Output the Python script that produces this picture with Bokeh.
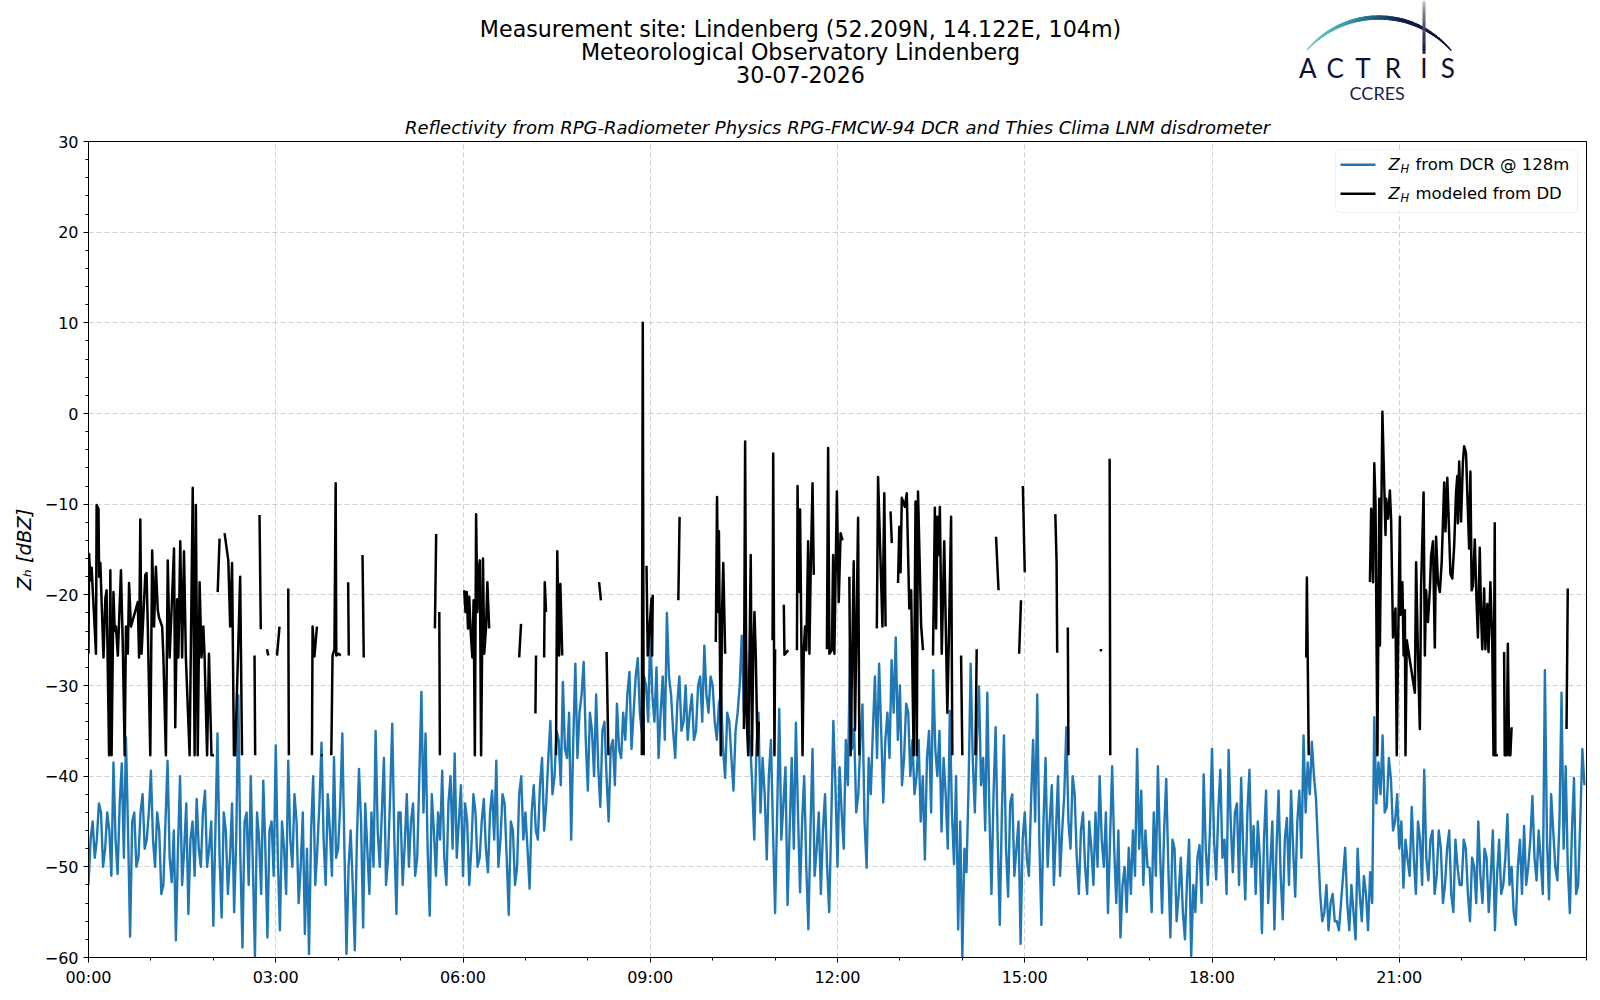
import math
import numpy as np
from bokeh.plotting import figure
from bokeh.layouts import column
from bokeh.models import Range1d, FixedTicker, BoxAnnotation, Label
from bokeh.core.properties import value
from bokeh.embed import file_html
from bokeh.resources import INLINE

# ---------------- data ----------------
hour_ticks = [0, 3, 6, 9, 12, 15, 18, 21]
hour_labels = ["00:00", "03:00", "06:00", "09:00", "12:00", "15:00", "18:00", "21:00"]
dbz_ticks = [-60, -50, -40, -30, -20, -10, 0, 10, 20, 30]
dbz_labels = ["\u221260", "\u221250", "\u221240", "\u221230", "\u221220", "\u221210", "0", "10", "20", "30"]

title_lines = ["Measurement site: Lindenberg (52.209N, 14.122E, 104m)",
               "Meteorological Observatory Lindenberg",
               "30-07-2026"]
subtitle = "Reflectivity from RPG-Radiometer Physics RPG-FMCW-94 DCR and Thies Clima LNM disdrometer"
y_label = "Z\u2095 [dBZ]"
legend_texts = ["from DCR @ 128m", "modeled from DD"]

# DCR reflectivity at 128 m, sampled every 2 minutes.
# dcr_zh_a: values at minutes 0, 4, 8, ... ; dcr_zh_b: values at minutes 2, 6, 10, ...
dcr_step_min = 2
dcr_zh_a = [
    -52, -45, -47, -44, -48, -46, -38.5, -50.8, -38.6, -35.7, -57.7, -44, -49, -42, -47,          # 00h
    -39.4, -50, -46, -52, -38.3, -51.7, -58.1, -40, -48, -55.2, -45, -42.5, -50, -41.6, -48,     # 01h
    -56.5, -35.3, -55.6, -46, -49, -55, -31.1, -58.9, -44, -40, -60, -47, -40.5, -57.8, -45,     # 02h
    -36.6, -57, -48, -38.3, -50, -45, -50, -57.4, -59.6, -40, -48, -36.3, -52, -46, -37.9,       # 03h
    -48, -35.3, -59.6, -46, -59.2, -39.2, -56.7, -48, -44, -35, -50, -38, -49, -34.2, -55.2,     # 04h
    -44, -47.5, -50, -43, -49, -30.7, -35.3, -55.4, -46, -44, -39.4, -52, -40, -37.5, -45,       # 05h
    -51, -45, -48, -44, -49, -42.5, -50.6, -41.6, -38.3, -47, -43, -55.3, -46, -50, -40,         # 06h
    -44, -52.4, -41, -47, -38, -43, -33.9, -40, -36, -29.6, -38, -47, -27.6, -33, -27.4,         # 07h
    -41.6, -35, -31, -43.4, -34, -45, -36, -32, -38, -36, -28.5, -33, -27, -35.3, -30,           # 08h
    -24, -34, -38, -29, -22, -31, -38, -29, -34, -36, -31, -35, -29, -25.6, -33,                 # 09h
    -30, -36, -31, -40.2, -34, -41.6, -33, -24.5, -26, -36, -47, -33, -38, -49.2, -36,           # 10h
    -55.1, -32.6, -43, -54.2, -38, -34.1, -52.8, -40, -56.9, -37, -48, -53, -42, -55, -33.9,     # 11h
    -50, -44, -36, -25.8, -34.8, -42, -32.1, -50.1, -42, -29, -27.6, -42.9, -33, -27.2, -24.7,   # 12h
    -30, -38, -33, -36, -40, -45, -49.2, -35, -28.3, -40, -46.1, -42, -32.8, -49.7, -56.9,       # 13h
    -60, -50.6, -27.6, -44, -30.1, -38, -30.8, -53, -34.6, -56.4, -35.5, -53.3, -42, -48, -58.5, # 14h
    -44, -51, -36, -31, -56.4, -38, -45, -52, -40, -46, -34.6, -48, -42, -53, -44,               # 15h
    -53, -48, -44, -40, -50, -55.1, -38.9, -54, -57.8, -50, -47.9, -46, -37, -41.6, -46,         # 16h
    -50.1, -44, -38.9, -55.1, -40.3, -57.8, -48, -53, -55, -51.5, -60, -55, -47.6, -39.8, -52,   # 17h
    -37, -51.4, -39.3, -47, -37.1, -50.6, -43, -40.2, -53.6, -39.3, -45.5, -45, -57.3, -41.6, -50,  # 18h
    -56.9, -41.6, -55.8, -44.6, -41.6, -53.3, -41.6, -35.5, -38.5, -36.2, -42.5, -53, -55, -57, -53, # 19h
    -56, -54, -47.9, -57, -55, -48, -56, -53, -50.6, -33.5, -38.5, -35.5, -43.4, -40.3, -45,     # 20h
    -48, -52.3, -49.2, -43.4, -53, -47, -39.3, -51.5, -46, -51, -48, -52, -46, -55, -50,         # 21h
    -52, -48, -56, -50, -45, -54, -49, -51, -57, -47, -52, -44.2, -50, -56.4, -47,               # 22h
    -45.5, -50, -42.2, -51.5, -49.2, -28.3, -53.6, -46, -51.5, -30.8, -38.9, -55.1, -40.2, -52, -37,  # 23h
]
dcr_zh_b = [
    -47, -49, -43, -50, -44, -51, -47, -43, -49, -46, -45, -50, -44, -48, -44,   # 00h
    -47, -44, -53, -45, -49, -46, -48, -52, -43, -47, -51, -48, -44, -50, -45,   # 01h
    -46, -49, -44, -53, -43, -47, -49, -45, -52, -50, -44, -53, -48, -46, -51,   # 02h
    -49, -45, -53, -47, -42, -54, -44, -48, -46, -52, -43, -47, -42, -51, -49,   # 03h
    -43, -48, -50, -52, -47, -45, -43, -53, -50, -46, -44, -52, -42, -47, -44,   # 04h
    -52, -42, -45, -51, -40, -44, -48, -42, -51, -47, -49, -43, -48, -49, -41,   # 05h
    -43, -52, -42, -50, -45, -48, -44, -47, -50, -42, -49, -45, -52, -42, -47,   # 06h
    -48, -44, -46, -41, -46, -38, -42, -35, -41, -37, -33, -36, -38, -31, -36,   # 07h
    -33, -40, -39, -35, -40, -37, -41, -37, -33, -31, -37, -29, -33, -29, -34,   # 08h
    -31, -28, -33, -36, -29, -35, -32, -35, -30, -33, -36, -30, -34, -31, -29,   # 09h
    -34, -32, -37, -33, -38, -35, -30, -33, -34, -41, -37, -44, -42, -40, -46,   # 10h
    -44, -47, -39, -46, -48, -44, -45, -50, -46, -51, -44, -46, -50, -45, -41,   # 11h
    -39, -48, -41, -37, -44, -36, -45, -38, -35, -38, -35, -36, -38, -33, -36,   # 12h
    -41, -32, -40, -42, -36, -40, -38, -44, -37, -35, -38, -48, -44, -40, -45,   # 13h
    -48, -41, -38, -36, -41, -46, -44, -42, -47, -44, -48, -43, -51, -45, -47,   # 14h
    -49, -43, -45, -47, -45, -50, -41, -46, -51, -42, -45, -40, -49, -46, -50,   # 15h
    -45, -52, -50, -47, -44, -47, -48, -46, -52, -55, -53, -51, -48, -52, -50,   # 16h
    -55, -51, -48, -46, -50, -47, -56, -49, -58, -47, -52, -49, -54, -48, -46,   # 17h
    -47, -44, -49, -53, -45, -44, -52, -48, -44, -50, -53, -49, -47, -54, -45,   # 18h
    -48, -51, -47, -52, -48, -45, -49, -44, -42, -40, -48, -56, -52, -54, -56,   # 19h
    -57, -51, -54, -52, -58, -53, -51, -57, -54, -43, -42, -44, -38, -46, -42,   # 20h
    -45, -47, -51, -49, -45, -52, -49, -47, -53, -46, -54, -48, -53, -47, -52,   # 21h
    -47, -53, -49, -54, -51, -48, -55, -46, -51, -53, -49, -52, -55, -50, -53,   # 22h
    -52, -47, -49, -46, -53, -47, -42, -50, -45, -48, -50, -46, -53, -45, -41,   # 23h
]

# Disdrometer-modelled reflectivity: (hour of day, dBZ); None marks a data gap
dd_points = [
    (0.00, -26.5), (0.01, -15.5), (0.03, -18.4), (0.05, -17), (0.12, -26.5), (0.13, -10.1), (0.16, -10.5),
    (0.17, -18), (0.19, -16.5), (0.24, -26.9), (0.27, -20.4), (0.29, -19.5), (0.33, -37.7), (0.35, -17.3),
    (0.37, -37.7), (0.40, -19.7), (0.42, -24), (0.44, -23.5), (0.47, -26.7), (0.52, -17.3), (0.55, -25.8),
    (0.58, -37.7), (0.60, -23.5), (0.63, -26.5), (0.65, -18.7), (0.68, -23.5), (0.79, -20.8), (0.81, -26.9),
    (0.83, -11.7), (0.85, -26.5), (0.91, -17.8), (0.93, -17.6), (0.95, -23.5), (0.99, -37.7), (1.02, -15.1),
    (1.05, -23.5), (1.08, -16.9), (1.11, -21.7), (1.13, -22.5), (1.18, -23.5), (1.20, -26.9), (1.24, -37.7),
    (1.27, -16.2), (1.30, -26.9), (1.37, -14.9), (1.39, -34.6), (1.42, -20.5), (1.44, -26.9), (1.47, -14.1),
    (1.50, -26.9), (1.53, -15.2), (1.56, -26.9), (1.62, -37.7), (1.67, -8.2), (1.70, -37.7), (1.72, -10.1),
    (1.75, -37.7), (1.78, -18.6), (1.81, -26.9), (1.84, -23.5), (1.86, -26.9), (1.90, -37.7), (1.93, -26.5),
    (1.97, -37.7), (2.01, -37.7), None,
    (2.07, -19.7), (2.10, -13.8), None,
    (2.18, -13.2), (2.24, -16.2), (2.27, -23.5), (2.30, -16.5), (2.33, -37.7), (2.35, -37.7), (2.43, -18),
    (2.46, -37.7), None,
    (2.66, -26.7), (2.67, -37.7), None,
    (2.74, -11.2), (2.76, -23.8), None,
    (2.86, -26), (2.88, -26.7), None,
    (3.02, -26.7), (3.06, -23.5), None,
    (3.20, -19.3), (3.21, -37.7), None,
    (3.58, -37.7), (3.59, -23.5), (3.62, -26.8), (3.66, -23.5), None,
    (3.72, -37.7), (3.75, -37.7), None,
    (3.89, -37.7), (3.91, -26.7), (3.94, -26), (3.96, -7.7), (3.97, -26.7), (4.01, -26.5), (4.04, -26.7), None,
    (4.16, -18.6), (4.17, -26.7), None,
    (4.39, -15.6), (4.41, -26.9), None,
    (5.55, -23.7), (5.57, -13.3), None,
    (5.62, -21.9), (5.63, -37.7), None,
    (6.02, -19.5), (6.04, -21.9), (6.06, -19.7), (6.08, -23.7), (6.10, -20.2), (6.12, -23.7), (6.15, -26.9),
    (6.17, -20.6), (6.19, -37.7), (6.21, -11.1), (6.23, -21.9), (6.25, -17.3), (6.27, -16.2), (6.29, -37.7),
    (6.32, -16), (6.34, -26.5), (6.37, -23.5), (6.39, -18.6), (6.42, -23.7), None,
    (6.90, -26.9), (6.93, -23.2), None,
    (7.16, -33.1), (7.17, -26.7), None,
    (7.30, -26.9), (7.31, -18.6), (7.33, -21.9), None,
    (7.49, -37.7), (7.51, -15.2), (7.54, -26.7), (7.56, -18.8), (7.59, -26.7), None,
    (8.18, -18.6), (8.21, -20.6), None,
    (8.30, -26.3), (8.33, -37.7), None,
    (8.865, -37.7), (8.88, 10.0), (8.895, -37.7), None,
    (8.94, -16.8), (8.96, -26.7), (9.02, -20.4), (9.03, -26.7), (9.04, -20), None,
    (9.45, -20.6), (9.47, -11.4), None,
    (10.05, -25.2), (10.07, -9.2), (10.09, -21.9), (10.10, -13), (10.13, -37.7), (10.15, -21.9), (10.17, -16.5),
    (10.20, -26.5), None,
    (10.50, -34.8), (10.52, -3.1), (10.54, -33), (10.57, -37.7), (10.61, -15.6), (10.63, -37.7), (10.65, -26.5),
    (10.67, -21.9), (10.69, -26.5), (10.72, -37.7), (10.74, -34), None,
    (10.96, -25), (10.97, -4.4), (10.99, -37.7), (11.00, -26), None,
    (11.14, -21.1), (11.15, -26.6), (11.21, -26.1), None,
    (11.35, -26.1), (11.36, -8.0), (11.38, -19.7), (11.40, -10.6), (11.44, -37.7), (11.46, -26.1), (11.48, -23.5),
    (11.50, -26.1), (11.53, -14.1), (11.55, -26.5), (11.57, -17.6), (11.60, -7.7), (11.62, -17.8), None,
    (11.83, -26), (11.85, -3.8), (11.87, -26.5), (11.91, -26.1), (11.93, -15.6), (11.95, -26.5), (11.99, -8.6),
    (12.02, -20.8), (12.05, -13.2), (12.08, -14), None,
    (12.19, -18), (12.21, -37.7), (12.26, -16.3), (12.28, -34.9), (12.33, -11.5), (12.35, -37.7), None,
    (12.63, -23.7), (12.65, -7.0), (12.72, -23.5), (12.75, -8.8), (12.77, -23.5), None,
    (12.85, -10.8), (12.87, -14.3), None,
    (12.97, -18.7), (12.99, -12.5), (13.01, -17.5), (13.03, -9.3), (13.08, -10.3), (13.11, -8.8), (13.15, -21.5),
    (13.18, -19.5), (13.22, -37.7), (13.25, -9.7), (13.27, -37.7), (13.29, -8.6), (13.34, -23.4), (13.37, -26.1), None,
    (13.53, -26.7), (13.56, -10.4), (13.58, -23.7), (13.60, -11.4), (13.62, -15.6), (13.64, -10.3), (13.67, -26.5),
    (13.71, -14.1), (13.76, -33), (13.78, -26.3), (13.82, -11.4), (13.84, -37.7), None,
    (13.98, -26.7), (14.00, -37.7), None,
    (14.21, -37.7), (14.23, -26), None,
    (14.54, -13.6), (14.58, -19.5), None,
    (14.91, -26.5), (14.94, -20.6), None,
    (14.97, -8.0), (15.00, -17.5), None,
    (15.49, -11.1), (15.51, -16.4), (15.52, -26.4), None,
    (15.69, -23.6), (15.70, -37.7), None,
    (16.20, -26.1), (16.24, -26.1), None,
    (16.36, -5.0), (16.37, -37.7), None,
    (19.51, -26.9), (19.52, -18.1), (19.55, -37.7), None,
    (20.53, -18.6), (20.55, -10.5), (20.58, -18.6), (20.60, -5.5), (20.62, -10), (20.65, -37.7), (20.68, -9.4),
    (20.69, -25.6), (20.73, 0.2), (20.76, -8), (20.78, -13.4), (20.79, -9.4), (20.82, -11.6), (20.85, -8.5),
    (20.87, -11.8), (20.90, -24.7), (20.94, -21.5), (20.96, -37.7), (20.98, -26.5), (21.01, -11.4), (21.02, -22.2),
    (21.05, -18.6), (21.07, -26.7), (21.09, -21.7), (21.10, -37.7), (21.12, -25), (21.25, -30.8), (21.27, -16.4),
    (21.30, -26.7), (21.33, -34.8), (21.35, -19), (21.39, -8.7), (21.41, -26.7), (21.43, -19.5), (21.46, -23),
    (21.49, -19.5), (21.51, -15.7), (21.54, -14.1), (21.57, -25.8), (21.59, -13.6), (21.62, -18.6), (21.65, -19.7),
    (21.68, -16.4), (21.72, -7.6), (21.74, -13), (21.77, -7.1), (21.80, -13.4), (21.82, -17.7), (21.85, -18.2),
    (21.88, -14.6), (21.91, -8.7), (21.93, -6.9), (21.94, -12.1), (21.96, -5.3), (21.99, -11.9), (22.02, -5.3),
    (22.04, -3.6), (22.07, -4.4), (22.09, -8.7), (22.12, -14.9), (22.14, -6.4), (22.16, -19.5), (22.18, -19),
    (22.21, -13.9), (22.24, -21), (22.26, -24.7), (22.29, -14.8), (22.31, -22), (22.33, -26), (22.36, -19.3),
    (22.38, -26), (22.41, -21), (22.43, -26.3), (22.46, -18.6), (22.49, -25.3), (22.51, -37.7), (22.53, -12.1),
    (22.54, -37.7), (22.58, -37.7), None,
    (22.68, -26.3), (22.69, -37.7), (22.72, -37.7), (22.74, -25.4), (22.76, -37.7), (22.78, -37.7), (22.80, -34.6), None,
    (23.68, -34.8), (23.70, -19.3), None,
]

# ---------------- derived arrays ----------------
dcr_zh = [v for pair in zip(dcr_zh_a, dcr_zh_b) for v in pair]
dcr_t = np.arange(len(dcr_zh)) * dcr_step_min / 60.0
dd_t = np.array([q[0] if q is not None else np.nan for q in dd_points])
dd_z = np.array([q[1] if q is not None else np.nan for q in dd_points])

# ---------------- layout geometry (page pixels, page has no margin) ----------------
W = 1596
HEAD_H = 108
FRAME_L, FRAME_R, FRAME_T, FRAME_B = 88, 1586, 141, 957
MAIN_H = 889
BORDER_TOP = FRAME_T - HEAD_H
BORDER_BOTTOM = HEAD_H + MAIN_H - FRAME_B
FONT = "DejaVu Sans"


def fx(px):
    return (px - FRAME_L) / (FRAME_R - FRAME_L) * 24.0


def fy(py):
    return 30.0 - (py - FRAME_T) / (FRAME_B - FRAME_T) * 90.0


# ---------------- header figure (titles, logo) ----------------
# its frame gets aligned with the main frame, so x data == page x inside FRAME_L..FRAME_R
hf = figure(width=W, height=HEAD_H, x_range=Range1d(FRAME_L, FRAME_R), y_range=Range1d(HEAD_H, 0),
            output_backend="svg", toolbar_location=None, x_axis_type=None, y_axis_type=None,
            min_border_left=FRAME_L, min_border_right=W - FRAME_R, min_border_top=0, min_border_bottom=0)
hf.outline_line_color = None
hf.grid.visible = False
hf.background_fill_color = "white"
hf.border_fill_color = "white"

hf.text(x=[800, 800, 800], y=[28.5, 51.3, 74.3], text=title_lines,
        text_font=value(FONT), text_font_size=value("22.2px"), text_color="black",
        text_align="center", text_baseline="middle")

# logo arc with colour gradient
cx, cy, R = 1378.35, 112.6, 95.6
a0 = math.pi - math.atan2(63.3, 71.65)
a1 = math.atan2(63.3, 71.65)
stops = [(0.0, (124, 207, 201)), (0.3, (58, 160, 168)), (0.5, (30, 90, 122)),
         (0.65, (16, 28, 70)), (1.0, (11, 16, 53))]


def grad(t):
    for (t0, c0), (t1, c1) in zip(stops[:-1], stops[1:]):
        if t0 <= t <= t1:
            f = (t - t0) / (t1 - t0)
            return "#%02x%02x%02x" % tuple(int(round(c0[k] + f * (c1[k] - c0[k]))) for k in range(3))
    return "#0b1035"


N = 48
xs, ys, cols, wds = [], [], [], []
for i in range(N):
    t0, t1 = i / N, (i + 1) / N
    th0 = a0 + (a1 - a0) * t0
    th1 = a0 + (a1 - a0) * (t1 + 0.004)
    xs.append([cx + R * math.cos(th0), cx + R * math.cos(th1)])
    ys.append([cy - R * math.sin(th0), cy - R * math.sin(th1)])
    cols.append(grad((t0 + t1) / 2))
    wds.append(1.3 + 3.0 * math.sin(math.pi * (t0 + t1) / 2))
hf.multi_line(xs=xs, ys=ys, line_color=cols, line_width=wds, line_cap="round")

# vertical stroke of the logo (fading towards the top)
M = 24
vxs, vys, vcols = [], [], []
top_c, bot_c = (232, 234, 240), (11, 16, 53)
for i in range(M):
    y0 = 0 + 53 * i / M
    y1 = 0 + 53 * (i + 1) / M
    f = ((i + 0.5) / M) ** 0.5
    vxs.append([1423.5, 1423.5])
    vys.append([y0, y1 + 0.3])
    vcols.append("#%02x%02x%02x" % tuple(int(round(top_c[k] + f * (bot_c[k] - top_c[k]))) for k in range(3)))
hf.multi_line(xs=vxs, ys=vys, line_color=vcols, line_width=3)

hf.text(x=[1307.3, 1334.7, 1362.5, 1392.3, 1423.5, 1447.3], y=[67.8] * 6,
        text=["A", "C", "T", "R", "I", "S"], text_font=value("Lato"), text_font_size=value("26px"),
        text_color="#0d1136", text_align="center", text_baseline="middle")
hf.text(x=[1376.7], y=[92.7], text=["CCRES"], text_font=value("Lato"), text_font_size=value("18px"),
        text_color="#1b2150", text_align="center", text_baseline="middle")

# ---------------- main figure ----------------
p = figure(width=W, height=MAIN_H, x_range=Range1d(0, 24), y_range=Range1d(-60, 30),
           output_backend="svg", toolbar_location=None,
           min_border_left=FRAME_L, min_border_right=W - FRAME_R,
           min_border_top=BORDER_TOP, min_border_bottom=BORDER_BOTTOM)
p.background_fill_color = "white"
p.border_fill_color = "white"
p.outline_line_color = "black"
p.outline_line_width = 1
p.outline_line_alpha = 1.0

p.title.text = subtitle
p.title.align = "center"
p.title.text_font = FONT
p.title.text_font_style = "italic"
p.title.text_font_size = "18px"
p.title.text_color = "black"
p.title.standoff = 8

p.xaxis.ticker = FixedTicker(ticks=hour_ticks, minor_ticks=list(range(0, 25)))
p.xaxis.major_label_overrides = {t: l for t, l in zip(hour_ticks, hour_labels)}
p.yaxis.ticker = FixedTicker(ticks=dbz_ticks, minor_ticks=list(range(-60, 31, 2)))
p.yaxis.major_label_overrides = {t: l for t, l in zip(dbz_ticks, dbz_labels)}

for ax in (p.xaxis[0], p.yaxis[0]):
    ax.axis_line_color = "black"
    ax.major_tick_line_color = "black"
    ax.minor_tick_line_color = "black"
    ax.major_tick_out = 5
    ax.major_tick_in = 0
    ax.minor_tick_out = 3
    ax.minor_tick_in = 0
    ax.major_label_text_font = FONT
    ax.major_label_text_font_size = "16px"
    ax.major_label_text_color = "black"
    ax.major_label_standoff = 5

p.yaxis.axis_label = y_label
p.yaxis.axis_label_text_font = FONT
p.yaxis.axis_label_text_font_style = "italic"
p.yaxis.axis_label_text_font_size = "19.5px"
p.yaxis.axis_label_text_color = "black"
p.yaxis.axis_label_standoff = 6

for g in (p.xgrid[0], p.ygrid[0]):
    g.grid_line_color = "#cfcfcf"
    g.grid_line_dash = "5 3"
    g.grid_line_width = 1

p.line(dcr_t, dcr_zh, line_color="#1f77b4", line_width=2.4, line_join="round")
p.line(dd_t, dd_z, line_color="black", line_width=2.5, line_join="round")

# legend (drawn by hand to get the subscript in Z_H)
p.add_layout(BoxAnnotation(left=fx(1335), right=fx(1577), top=fy(149), bottom=fy(212),
                           fill_color="white", fill_alpha=0.8, line_color="#cccccc", line_width=1,
                           border_radius=4))
for row_y, col, txt in [(164.3, "#1f77b4", legend_texts[0]), (193.3, "black", legend_texts[1])]:
    r = p.line([fx(1340), fx(1375)], [fy(row_y), fy(row_y)], line_color=col, line_width=2.4)
    r.level = "overlay"
    p.add_layout(Label(x=fx(1388), y=fy(row_y), text="Z", text_font=FONT, text_font_style="italic",
                       text_font_size="16.5px", text_baseline="middle", text_color="black"))
    p.add_layout(Label(x=fx(1400), y=fy(row_y + 4), text="H", text_font=FONT, text_font_style="italic",
                       text_font_size="11.5px", text_baseline="middle", text_color="black"))
    p.add_layout(Label(x=fx(1415), y=fy(row_y), text=txt, text_font=FONT,
                       text_font_size="16.5px", text_baseline="middle", text_color="black"))

layout = column(hf, p, spacing=0)
open("out.html", "w").write(file_html(layout, INLINE))
